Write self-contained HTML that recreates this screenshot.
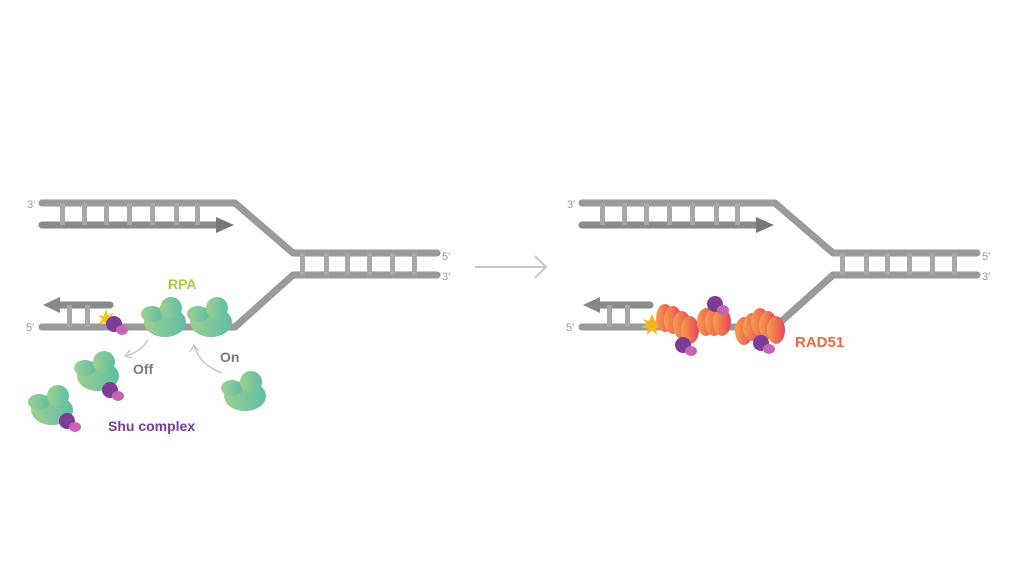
<!DOCTYPE html>
<html><head><meta charset="utf-8"><style>
html,body{margin:0;padding:0;background:#fff;}
svg{display:block;font-family:"Liberation Sans",Arial,sans-serif;}
</style></head><body>
<svg width="1024" height="576" viewBox="0 0 1024 576" xmlns="http://www.w3.org/2000/svg">
<defs>
<linearGradient id="g" x1="0" y1="0" x2="1" y2="0"><stop offset="0" stop-color="#9ccf8e"/><stop offset="1" stop-color="#5fbfa5"/></linearGradient>
<linearGradient id="o" x1="0" y1="0" x2="1" y2="0"><stop offset="0" stop-color="#f6a04a"/><stop offset="1" stop-color="#e8445a"/></linearGradient>
<g id="fork">
 <g stroke="#9a9a9a" stroke-width="7" fill="none" stroke-linecap="round" stroke-linejoin="round">
  <path d="M42 203 H235 L293 253 H437"/>
  <path d="M42 225 H220" stroke="#8a8a8a"/>
  <path d="M293 275 H437"/>
  <path d="M42 327 H235 L293 275"/>
  <path d="M58 305 H110" stroke="#8a8a8a"/>
 </g>
 <polygon points="216,217 234,225 216,233" fill="#777"/>
 <polygon points="60,297 43,305 60,313" fill="#888"/>
 <g fill="#a8a8a8">
  <rect x="60" y="203" width="5" height="22"/><rect x="82" y="203" width="5" height="22"/><rect x="104" y="203" width="5" height="22"/><rect x="127" y="203" width="5" height="22"/><rect x="150" y="203" width="5" height="22"/><rect x="174" y="203" width="5" height="22"/><rect x="195" y="203" width="5" height="22"/>
  <rect x="300" y="253" width="5" height="22"/><rect x="324" y="253" width="5" height="22"/><rect x="345" y="253" width="5" height="22"/><rect x="367" y="253" width="5" height="22"/><rect x="390" y="253" width="5" height="22"/><rect x="412" y="253" width="5" height="22"/>
  <rect x="67" y="305" width="5" height="22"/><rect x="85" y="305" width="5" height="22"/>
 </g>
 <g fill="#999" font-size="11">
  <text x="27" y="208">3′</text><text x="26" y="331">5′</text>
  <text x="442" y="260">5′</text><text x="442" y="280">3′</text>
 </g>
</g>
<g id="rpa">
 <ellipse cx="0" cy="4" rx="21" ry="15" fill="url(#g)"/>
 <ellipse cx="-13" cy="-4" rx="11" ry="8" fill="url(#g)"/>
 <circle cx="6" cy="-10" r="11" fill="url(#g)"/>
</g>
<g id="shu">
 <circle cx="0" cy="0" r="8" fill="#7c3d97"/>
 <ellipse cx="8" cy="6" rx="6" ry="5" fill="#c864b4"/>
</g>
<g id="r"><ellipse cx="0" cy="0" rx="9" ry="14" fill="url(#o)"/></g>
</defs>
<use href="#fork"/>
<use href="#fork" x="540"/>
<polygon points="106,309 108,315 114,313 110,318 115,322 109,322 108,328 104,322 99,324 102,319 98,315 104,316" fill="#f5c518"/>
<use href="#shu" x="114" y="324"/>
<use href="#rpa" x="165" y="318"/>
<use href="#rpa" x="211" y="318"/>
<use href="#rpa" x="98" y="372"/>
<use href="#shu" x="110" y="390"/>
<use href="#rpa" x="52" y="406"/>
<use href="#shu" x="67" y="421"/>
<use href="#rpa" x="245" y="392"/>
<g stroke="#c8c8c8" stroke-width="1.5" fill="none">
 <path d="M148 340 Q140 352 126 356"/><path d="M130 350 L125 356 L132 358"/>
 <path d="M222 373 Q200 365 194 346"/><path d="M190 352 L194 345 L199 351"/>
</g>
<text x="133" y="374" font-size="14" font-weight="bold" fill="#7a7a7a">Off</text>
<text x="220" y="362" font-size="14" font-weight="bold" fill="#7a7a7a">On</text>
<text x="168" y="289" font-size="14" font-weight="bold" fill="#a6cf3c">RPA</text>
<text x="108" y="431" font-size="14" font-weight="bold" fill="#7d3a9b">Shu complex</text>
<g stroke="#c8c8c8" stroke-width="2" fill="none">
 <path d="M475 267 H546"/><path d="M535 256 L546 267 L535 278"/>
</g>
<polygon points="652,314 655,321 661,319 657,324 663,327 656,328 657,335 652,330 647,335 648,329 641,327 647,324 643,319 649,321" fill="#f5b51c"/>
<use href="#r" x="665" y="318"/><use href="#r" x="673" y="320"/><use href="#r" x="682" y="325"/><use href="#r" x="690" y="330"/>
<use href="#shu" x="683" y="345"/>
<use href="#r" x="706" y="322"/><use href="#r" x="714" y="322"/><use href="#r" x="722" y="322"/>
<use href="#shu" x="715" y="304"/>
<use href="#r" x="744" y="331"/><use href="#r" x="752" y="327"/><use href="#r" x="760" y="322"/><use href="#r" x="768" y="325"/><use href="#r" x="776" y="330"/>
<use href="#shu" x="761" y="343"/>
<text x="795" y="347" font-size="15" font-weight="bold" fill="#ef6a40">RAD51</text>
</svg>
</body></html>
